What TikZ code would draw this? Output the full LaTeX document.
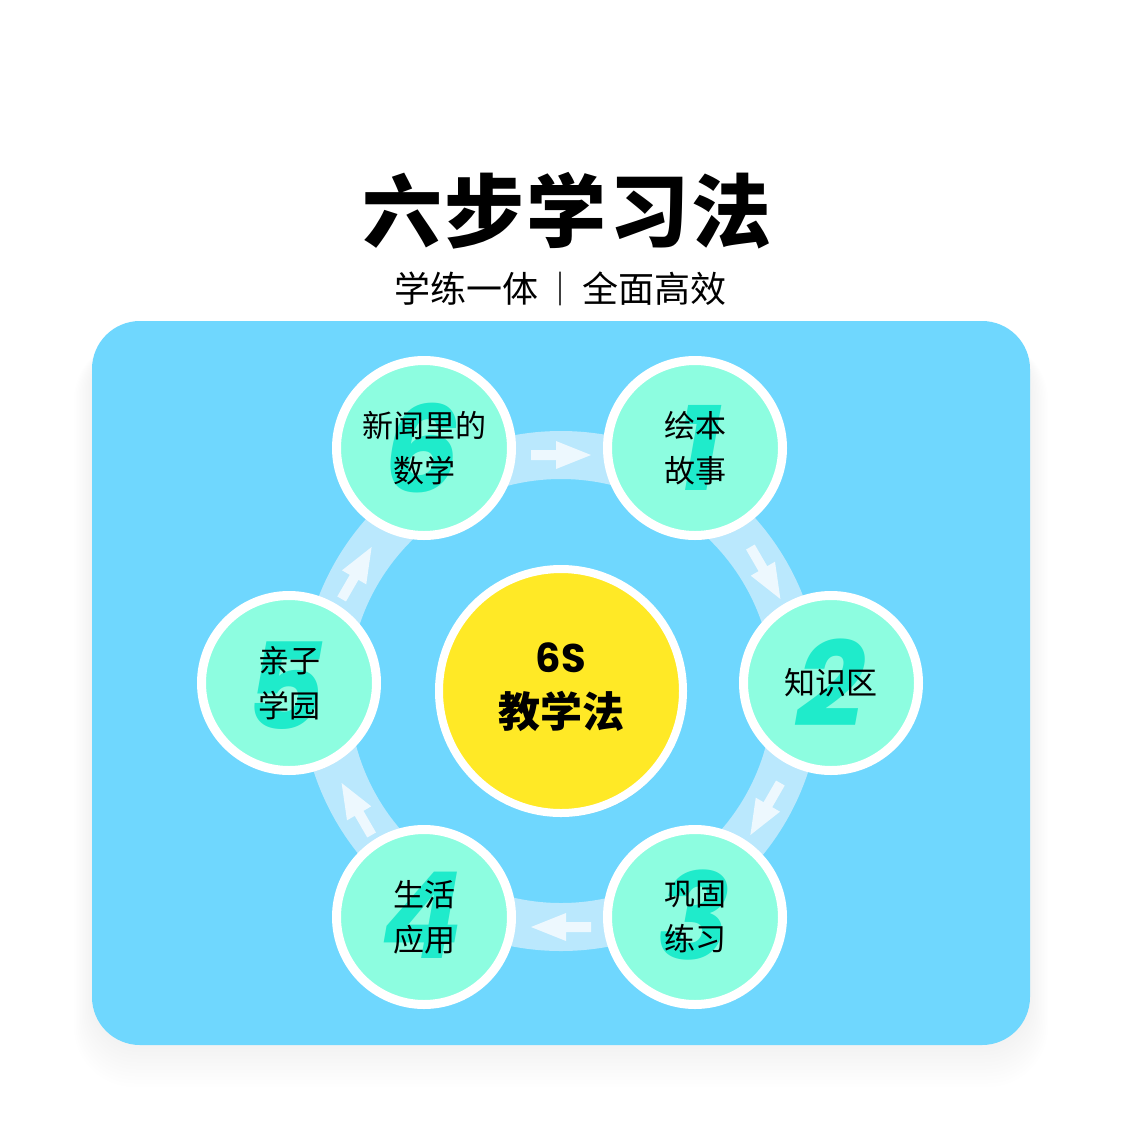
\documentclass[tikz,border=0pt]{standalone}
\usepackage{fontspec}
\newfontfamily\cjk{Noto Sans CJK SC}
\newfontfamily\latin{Poppins}
\usetikzlibrary{shadows}
\definecolor{sky}{HTML}{6FD7FE}
\definecolor{mint}{HTML}{8DFDE0}
\definecolor{digitgreen}{HTML}{1FEBCB}
\definecolor{sun}{HTML}{FFE926}
\definecolor{ringblue}{HTML}{BAE8FD}
\definecolor{arrowwhite}{HTML}{EDF8FE}

\tikzset{
  stepnode/.style={circle,fill=mint,draw=white,line width=9pt,minimum size=175pt,
    inner sep=0pt,drop shadow={opacity=.08,shadow xshift=2pt,shadow yshift=-4pt}},
  stepdigit/.style={font=\latin\bfseries\itshape\fontsize{120}{120}\selectfont,
    text=digitgreen,inner sep=0pt},
  steptext/.style={font=\cjk\fontsize{31}{45}\selectfont,align=center,inner sep=0pt},
}

\begin{document}
\begin{tikzpicture}[x=1pt,y=-1pt,line cap=round,line join=round]
  \useasboundingbox (0,0) rectangle (1125,1125);
  \fill[white] (0,0) rectangle (1125,1125);

  % heading
  \node[font=\cjk\bfseries\fontsize{80}{80}\selectfont\addfontfeature{LetterSpace=3}]
    (title) at (567,211) {六步学习法};
  \coordinate (bartop) at (560,272);
  \coordinate (barbot) at (560,305);
  \draw[black!75,line width=1.3pt] (bartop)--(barbot);
  \node[font=\cjk\fontsize{36}{36}\selectfont,anchor=east] (subl) at (542,289) {学练一体};
  \node[font=\cjk\fontsize{36}{36}\selectfont,anchor=west] (subr) at (579,289) {全面高效};

  % panel with soft shadow
  \foreach \s in {1,...,12}
    \fill[black,opacity=.005,rounded corners=48pt+\s pt]
      (92-1.5*\s,340) rectangle (1030+1.5*\s,1045+3.5*\s);
  \fill[sky,rounded corners=48pt] (92,321) rectangle (1030,1045);

  % ring and arrows
  \coordinate (hub) at (561,691);
  \draw[ringblue,line width=48pt] (hub) circle[radius=236];
  \foreach \a in {90,30,-30,-90,-150,-210}
    \fill[arrowwhite,shift={(hub)},rotate=\a]
      (231,-30)--(241,-30)--(241,-5)--(250,-5)--(236,30)--(222,-5)--(231,-5)--cycle;

  % centre
  \node[circle,fill=sun,draw=white,line width=8pt,minimum size=244pt,
    drop shadow={opacity=.08,shadow xshift=2pt,shadow yshift=-4pt}] (core) at (hub) {};
  \node[font=\latin\bfseries\fontsize{40}{40}\selectfont,inner sep=0pt] at (561,658) {6S};
  \node[font=\cjk\bfseries\fontsize{42}{42}\selectfont,inner sep=0pt] at (561,711) {教学法};

  % six steps
  \node[stepnode] (s1) at (695,448) {};
  \node[stepnode] (s2) at (831,683) {};
  \node[stepnode] (s3) at (695,917) {};
  \node[stepnode] (s4) at (424,917) {};
  \node[stepnode] (s5) at (289,683) {};
  \node[stepnode] (s6) at (424,448) {};

  \node[stepdigit] at ([xshift=4pt]s1) {1};
  \node[stepdigit] at (s2) {2};
  \node[stepdigit] at ([xshift=-1pt,yshift=2pt]s3) {3};
  \node[stepdigit] at ([xshift=-2pt,yshift=2pt]s4) {4};
  \node[stepdigit] at ([xshift=-4pt,yshift=-3pt]s5) {5};
  \node[stepdigit] at ([xshift=-2pt]s6) {6};

  \node[steptext] at (s1) {绘本\\故事};
  \node[steptext] at (s2) {知识区};
  \node[steptext] at (s3) {巩固\\练习};
  \node[steptext] at (s4) {生活\\应用};
  \node[steptext] at (s5) {亲子\\学园};
  \node[steptext] at (s6) {新闻里的\\数学};
\end{tikzpicture}
\end{document}
